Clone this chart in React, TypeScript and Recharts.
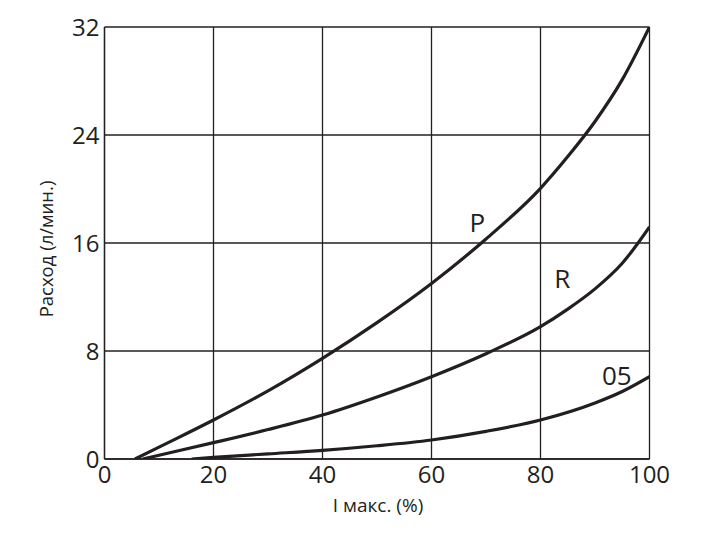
import React from "react";
import { ComposedChart, Line, Scatter, XAxis, YAxis, CartesianGrid, Label } from "recharts";

const xTicks = [0, 20, 40, 60, 80, 100];
const yTicks = [0, 8, 16, 24, 32];

const pX = [5.6, 10, 20, 30, 40, 50, 60, 70, 80, 85, 90, 95, 100];
const pY = [0, 0.88, 2.89, 5.05, 7.46, 10.1, 13.0, 16.3, 20.05, 22.4, 25.0, 28.1, 32];

const rX = [7, 10, 20, 30, 40, 50, 60, 70, 80, 85, 90, 95, 100];
const rY = [0, 0.28, 1.21, 2.18, 3.26, 4.6, 6.1, 7.8, 9.8, 11.1, 12.6, 14.5, 17.2];

const oX = [16, 20, 30, 40, 50, 60, 70, 80, 90, 95, 100];
const oY = [0, 0.12, 0.38, 0.64, 0.98, 1.41, 2.05, 2.89, 4.15, 5.0, 6.1];

const curveNames = ["P", "R", "05"];
const curveLabelX = [68.4, 84.0, 94.0];
const curveLabelY = [16.84, 12.67, 5.48];

const zip = (xs: number[], ys: number[]) => xs.map((x, i) => ({ x, y: ys[i] }));
const pData = zip(pX, pY);
const rData = zip(rX, rY);
const oData = zip(oX, oY);
const labelData = curveNames.map((name, i) => ({ name, x: curveLabelX[i], y: curveLabelY[i] }));

const INK = "#231f20";
const FONT = "'Open Sans', 'Noto Sans', sans-serif";

const CurveLabel = (props: any) => {
  const { cx, cy, payload } = props;
  return (
    <text x={cx} y={cy} textAnchor="middle" fontFamily={FONT} fontSize={26} fill={INK}>
      {payload.name}
    </text>
  );
};

const YLabel = (props: any) => {
  const vb = props.viewBox || {};
  const x = vb.x + 8;
  const y = vb.y + vb.height / 2 + 6;
  return (
    <text
      x={x}
      y={y}
      transform={`rotate(-90, ${x}, ${y})`}
      textAnchor="middle"
      fontFamily={FONT}
      fontSize={18.5}
      fill={INK}
    >
      Расход (л/мин.)
    </text>
  );
};

const XLabel = (props: any) => {
  const vb = props.viewBox || {};
  const x = vb.x + vb.width / 2 + 1;
  const y = vb.y + 53;
  return (
    <text x={x} y={y} textAnchor="middle" fontFamily={FONT} fontSize={19} fill={INK}>
      I макс. (%)
    </text>
  );
};

export default function App() {
  return (
    <div style={{ position: "absolute", left: 0, top: 0, background: "#fff" }}>
      <ComposedChart width={707} height={542} margin={{ top: 27, right: 57.5, bottom: 43, left: 44.5 }}>
        <CartesianGrid stroke={INK} strokeWidth={1.3} />
        <XAxis
          type="number"
          dataKey="x"
          domain={[0, 100]}
          ticks={xTicks}
          allowDataOverflow
          height={40}
          axisLine={{ stroke: INK, strokeWidth: 1.3 }}
          tickLine={false}
          tickSize={5}
          tickMargin={2}
          tick={{ fill: INK, fontSize: 24, fontFamily: FONT }}
          interval={0}
        >
          <Label content={XLabel} />
        </XAxis>
        <YAxis
          type="number"
          domain={[0, 32]}
          ticks={yTicks}
          allowDataOverflow
          width={60}
          axisLine={{ stroke: INK, strokeWidth: 1.3 }}
          tickLine={false}
          tickSize={4}
          tickMargin={1}
          tick={{ fill: INK, fontSize: 24, fontFamily: FONT }}
          interval={0}
        >
          <Label content={YLabel} />
        </YAxis>
        <Line data={pData} dataKey="y" type="monotone" stroke={INK} strokeWidth={3.2} dot={false} isAnimationActive={false} />
        <Line data={rData} dataKey="y" type="monotone" stroke={INK} strokeWidth={3.2} dot={false} isAnimationActive={false} />
        <Line data={oData} dataKey="y" type="monotone" stroke={INK} strokeWidth={3.2} dot={false} isAnimationActive={false} />
        <Scatter data={labelData} dataKey="y" shape={CurveLabel} isAnimationActive={false} />
      </ComposedChart>
    </div>
  );
}
